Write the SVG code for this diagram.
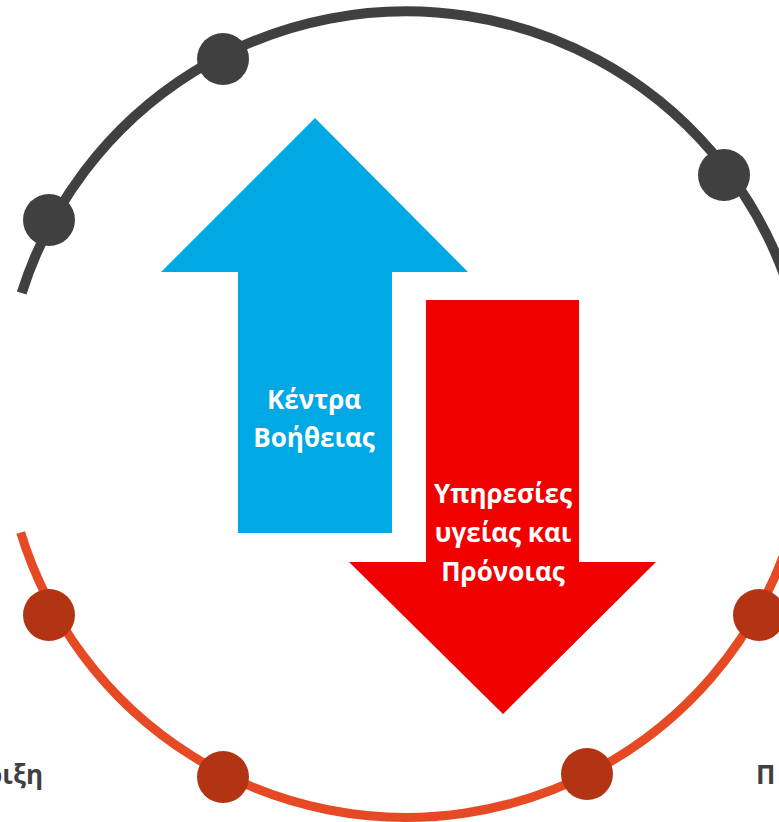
<svg xmlns="http://www.w3.org/2000/svg" width="779" height="822" viewBox="0 0 779 822">
<style>
.lbl{font-family:"Open Sans","Liberation Sans",sans-serif;font-weight:bold;font-size:26px;fill:#ffffff;text-anchor:middle}
.side{font-family:"Open Sans","Liberation Sans",sans-serif;font-weight:bold;font-size:26px;fill:#404040}
.dk{fill:#404040}
.or{fill:#B33413}
</style>
<rect width="779" height="822" fill="#ffffff"/>
<g id="connectors">
<path d="M 21.7 293 A 403 403 0 0 1 809 414.5" fill="none" stroke="#404040" stroke-width="10"/>
<path d="M 809 414.5 A 403 403 0 0 1 20.7 532.5" fill="none" stroke="#E64A24" stroke-width="9"/>
</g>
<g id="dots">
<circle class="dk" cx="49" cy="220" r="26"/>
<circle class="dk" cx="223" cy="59" r="26"/>
<circle class="dk" cx="724" cy="175" r="26"/>
<circle class="or" cx="49" cy="615" r="26"/>
<circle class="or" cx="223" cy="777" r="26"/>
<circle class="or" cx="587" cy="774" r="26"/>
<circle class="or" cx="759" cy="615" r="26"/>
</g>
<g id="arrow-up">
<polygon points="315,118 468,272 392,272 392,533 238,533 238,272 161,272" fill="#00A9E3"/>
<text class="lbl" x="314" y="409">Κέντρα</text>
<text class="lbl" x="314" y="447">Βοήθειας</text>
</g>
<g id="arrow-down">
<polygon points="426,300 579,300 579,562 656,562 503,714 349,562 426,562" fill="#F20000"/>
<text class="lbl" x="503" y="503">Υπηρεσίες</text>
<text class="lbl" x="503" y="542">υγείας και</text>
<text class="lbl" x="503" y="581">Πρόνοιας</text>
</g>
<g id="label-left">
<text class="side" x="43" y="784" text-anchor="end">ριξη</text>
</g>
<g id="label-right">
<text class="side" x="756" y="784">Π</text>
</g>
</svg>
